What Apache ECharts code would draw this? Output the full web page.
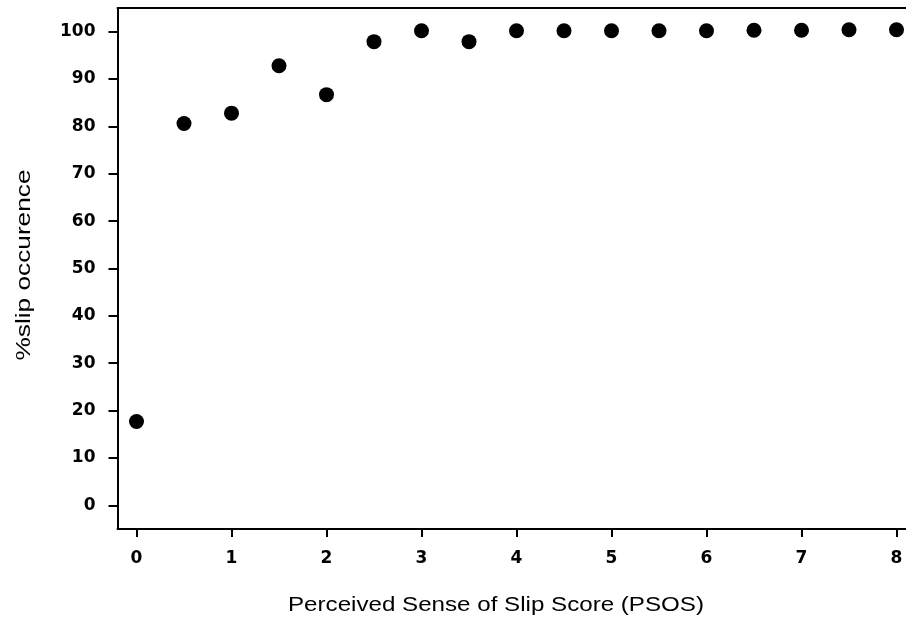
<!DOCTYPE html>
<html>
<head>
<meta charset="utf-8">
<script src="https://cdn.jsdelivr.net/npm/echarts@6/dist/echarts.min.js"></script>
<style>
  html, body { margin: 0; padding: 0; background: #fff; }
  #chart { width: 906px; height: 624px; }
</style>
</head>
<body>
<div id="chart"></div>
<script>
// Perceived sense of slip score vs. percentage of trials with a slip
const psosScores = [0, 0.5, 1, 1.5, 2, 2.5, 3, 3.5, 4, 4.5, 5, 5.5, 6, 6.5, 7, 7.5, 8];
const slipPercent = [17.7, 80.6, 82.8, 92.8, 86.7, 97.9, 100.2, 97.9, 100.2, 100.2, 100.2, 100.2, 100.2, 100.3, 100.3, 100.4, 100.4];
const xTicks = [0, 1, 2, 3, 4, 5, 6, 7, 8];
const yTicks = [0, 10, 20, 30, 40, 50, 60, 70, 80, 90, 100];
const xTitle = 'Perceived Sense of Slip Score (PSOS)';
const yTitle = '%slip occurence';

const TITLE_FONT = '"Liberation Sans", Arial, sans-serif';
const TICK_FONT = '"DejaVu Sans", sans-serif';
const points = psosScores.map((x, i) => [x, slipPercent[i]]);

// The axis titles are set in a wide face: stretch them along their length
// so each one spans the requested width.
const measureCtx = document.createElement('canvas').getContext('2d');
function stretchFor(text, size, targetWidth) {
  measureCtx.font = size + 'px ' + TITLE_FONT;
  return targetWidth / measureCtx.measureText(text).width;
}

const chart = echarts.init(document.getElementById('chart'), null, { renderer: 'canvas' });
chart.setOption({
  animation: false,
  backgroundColor: '#ffffff',
  grid: { left: 117.5, right: 0, top: 8, bottom: 95, containLabel: false },
  xAxis: [
    {
      type: 'value', min: -0.2, max: 8.1,
      axisLine: { show: true, onZero: false, lineStyle: { color: '#000', width: 2 } },
      axisTick: { show: true, length: 8, customValues: xTicks, lineStyle: { color: '#000', width: 2 } },
      axisLabel: { customValues: xTicks, margin: 21, fontFamily: TICK_FONT, fontWeight: 'bold', fontSize: 17, color: '#000' },
      splitLine: { show: false }
    },
    {
      type: 'value', position: 'top', min: -0.2, max: 8.1,
      axisLine: { show: true, onZero: false, lineStyle: { color: '#000', width: 2 } },
      axisTick: { show: false },
      axisLabel: { show: false },
      splitLine: { show: false }
    }
  ],
  yAxis: {
    type: 'value', min: -5, max: 105,
    axisLine: { show: true, onZero: false, lineStyle: { color: '#000', width: 2 } },
    axisTick: { show: true, length: 9, customValues: yTicks, lineStyle: { color: '#000', width: 2 } },
    axisLabel: { customValues: yTicks, margin: 22, fontFamily: TICK_FONT, fontWeight: 'bold', fontSize: 17, color: '#000' },
    splitLine: { show: false }
  },
  graphic: [
    {
      type: 'text', x: 496, y: 605,
      scaleX: stretchFor(xTitle, 20, 416),
      style: { text: xTitle, font: '20px ' + TITLE_FONT, fill: '#000', textAlign: 'center', textVerticalAlign: 'middle' }
    },
    {
      type: 'text', x: 24, y: 265, rotation: Math.PI / 2,
      scaleX: stretchFor(yTitle, 21, 191),
      style: { text: yTitle, font: '21px ' + TITLE_FONT, fill: '#000', textAlign: 'center', textVerticalAlign: 'middle' }
    }
  ],
  series: [{
    type: 'scatter',
    data: points,
    symbol: 'circle',
    symbolSize: 15,
    itemStyle: { color: '#000', opacity: 1 }
  }]
});
</script>
</body>
</html>
